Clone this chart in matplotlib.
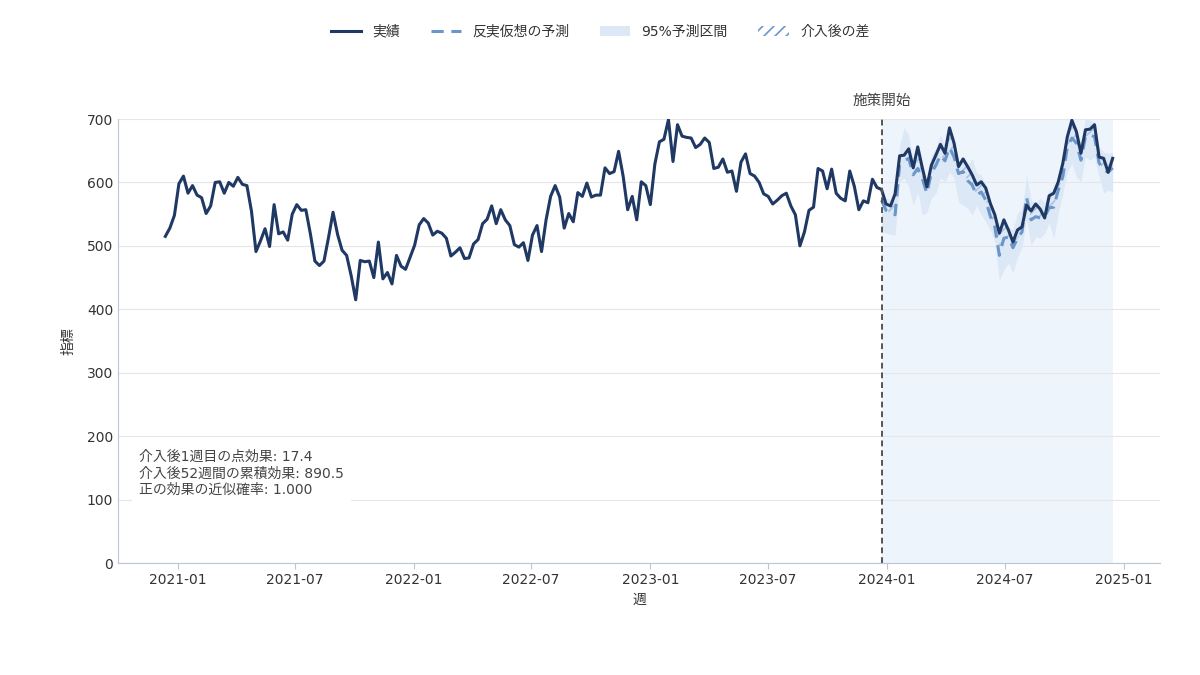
import numpy as np
import pandas as pd
import matplotlib
matplotlib.use('Agg')
import matplotlib.pyplot as plt
import matplotlib.dates as mdates
from matplotlib.lines import Line2D
from matplotlib.patches import Patch

plt.rcParams['font.family'] = ['DejaVu Sans', 'Noto Sans CJK JP']
plt.rcParams['hatch.linewidth'] = 1.2

# 実績（介入前 158 週）
pre_actual = [515, 528, 548, 598, 610, 583, 595, 580, 576, 551, 563,
              600, 601, 583, 600, 594, 608, 597, 595, 555, 491,
              508, 527, 499, 565, 519, 522, 509, 550, 565, 556,
              557, 519, 476, 469, 476, 513, 553, 518, 493, 485,
              453, 415, 477, 475, 476, 450, 506, 448, 458, 440,
              485, 468, 463, 482, 501, 533, 543, 536, 517, 523,
              520, 512, 484, 490, 497, 480, 481, 503, 510, 535,
              542, 563, 535, 557, 541, 532, 502, 498, 505, 477,
              517, 532, 491, 541, 578, 595, 577, 528, 551, 538,
              584, 578, 599, 577, 580, 580, 623, 614, 617, 649,
              610, 557, 578, 541, 601, 595, 565, 629, 664, 668,
              699, 633, 691, 673, 671, 670, 655, 660, 670, 663,
              622, 624, 637, 616, 618, 586, 632, 645, 614, 610,
              600, 582, 578, 566, 572, 579, 583, 563, 549, 500,
              522, 556, 561, 622, 618, 590, 621, 583, 575, 571,
              618, 594, 557, 571, 568, 605, 592]

# 実績（介入後 52 週）
post_actual = [589, 566, 563, 582, 642, 643, 653, 623, 656, 623,
               593, 627, 643, 660, 646, 686, 662, 625, 637, 625,
               612, 596, 601, 591, 567, 549, 520, 541, 525, 506,
               525, 530, 564, 555, 566, 558, 544, 579, 583, 601,
               630, 672, 698, 680, 646, 683, 684, 691, 640, 638,
               616, 638]

# 反実仮想の予測
counterfactual = [572, 556, 552, 549, 628, 634, 638, 612, 622, 606,
                  583, 615, 627, 643, 634, 655, 640, 614, 617, 603,
                  596, 580, 585, 572, 547, 530, 485, 512, 514, 497,
                  512, 522, 577, 541, 546, 544, 546, 560, 561, 588,
                  609, 656, 670, 662, 635, 672, 675, 672, 631, 620,
                  616, 623]

# 95%予測区間
ci_lower = [522, 520, 518, 517, 601, 607, 593, 564, 585, 549,
            553, 575, 583, 607, 601, 616, 607, 569, 564, 560,
            549, 564, 549, 538, 525, 506, 446, 462, 473, 457,
            482, 498, 541, 501, 514, 512, 520, 536, 512, 552,
            583, 616, 630, 609, 601, 640, 635, 640, 609, 583,
            588, 585]
ci_upper = [588, 575, 573, 572, 659, 686, 675, 632, 643, 627,
            601, 643, 654, 675, 659, 687, 670, 632, 638, 627,
            638, 615, 612, 596, 569, 553, 517, 541, 530, 525,
            552, 557, 612, 572, 567, 575, 569, 588, 583, 609,
            635, 678, 694, 687, 662, 702, 698, 695, 656, 648,
            646, 648]

notes = ['介入後1週目の点効果: 17.4',
         '介入後52週間の累積効果: 890.5',
         '正の効果の近似確率: 1.000']

dates = pd.date_range('2020-12-13', periods=len(pre_actual) + len(post_actual), freq='W')
pre_dates = dates[:len(pre_actual)]
post_dates = dates[len(pre_actual):]
start = post_dates[0]

navy = '#1f3864'
light = '#6b96cc'

fig = plt.figure(figsize=(12, 6.75), dpi=100)
ax = fig.add_axes([0.0983, 0.1659, 0.8684, 0.6578])

ax.axvspan(start, post_dates[-1], color='#eef4fc', zorder=0, lw=0)
ax.fill_between(post_dates, ci_lower, ci_upper, color='#dce8f6', lw=0, zorder=1)
ax.fill_between(post_dates, counterfactual, post_actual, facecolor='none',
                edgecolor=light, hatch='///', lw=0, alpha=0.45, zorder=2)
ax.plot(post_dates, counterfactual, color=light, lw=2.2, ls=(0, (4, 2.5)), zorder=3)
ax.plot(dates, pre_actual + post_actual, color=navy, lw=2.2, zorder=4)
ax.axvline(start, color='#555555', lw=1.4, ls=(0, (3, 2)), zorder=5)

ax.set_ylim(0, 700)
ax.set_yticks(range(0, 701, 100))
ax.xaxis.set_major_locator(mdates.MonthLocator(bymonth=[1, 7]))
ax.xaxis.set_major_formatter(mdates.DateFormatter('%Y-%m'))

ax.grid(axis='y', color='#e6e6e6', lw=0.8)
ax.set_axisbelow(True)
for s in ['top', 'right']:
    ax.spines[s].set_visible(False)
for s in ['left', 'bottom']:
    ax.spines[s].set_color('#b8c6d6')
ax.tick_params(colors='#333333', labelsize=10, length=4)
ax.tick_params(axis='y', length=0)
ax.tick_params(axis='x', color='#b8c6d6')

ax.set_xlabel('週', fontsize=10, color='#333333', labelpad=4)
ax.set_ylabel('指標', fontsize=10, color='#333333', labelpad=8)

ax.text(start, 1.025, '施策開始', transform=ax.get_xaxis_transform(),
        ha='center', va='bottom', fontsize=10.5, color='#444444')

ax.text(0.02, 0.254, '\n'.join(notes), transform=ax.transAxes, ha='left', va='top',
        fontsize=10, color='#444444', linespacing=1.2, zorder=6,
        bbox=dict(facecolor='white', edgecolor='none', pad=5))

handles = [Line2D([], [], color=navy, lw=2.2),
           Line2D([], [], color=light, lw=2.2, ls=(0, (4, 2.5))),
           Patch(facecolor='#dce8f6', edgecolor='none'),
           Patch(facecolor='none', edgecolor=light, hatch='///', lw=0)]
labels = ['実績', '反実仮想の予測', '95%予測区間', '介入後の差']
fig.legend(handles, labels, loc='center', bbox_to_anchor=(0.5, 0.953), ncol=4,
           frameon=False, fontsize=10, handlelength=2.2, columnspacing=2.2,
           labelcolor='#333333')

fig.savefig('out.png', dpi=100)
